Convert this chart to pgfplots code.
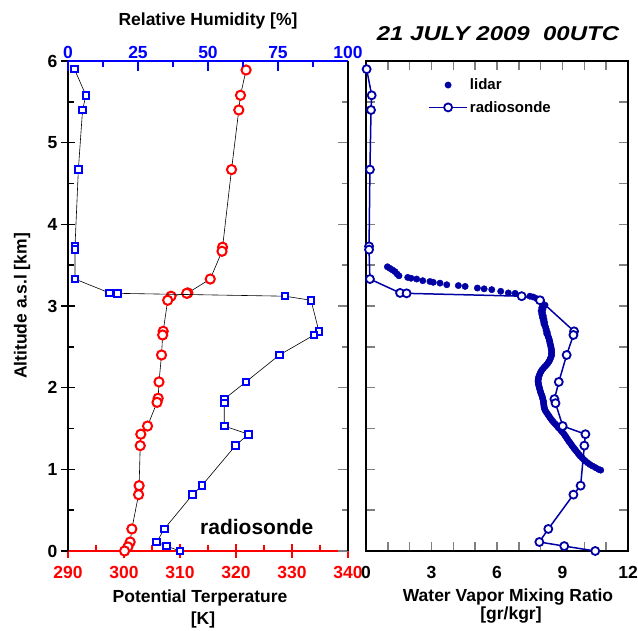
\documentclass[border=0pt]{standalone}
\usepackage{pgfplots}
\pgfplotsset{compat=1.18}
\usepackage{graphicx}
\usepackage{fontspec}
\setmainfont{Liberation Sans}
\definecolor{nv}{RGB}{0,0,165}
\newcommand{\fs}[1]{\fontsize{#1}{#1}\selectfont\bfseries}
\pgfplotsset{longleg/.style={legend image code/.code={\draw[mark repeat=2,mark phase=2,##1] plot coordinates {(0cm,0cm) (0.67cm,0cm) (1.34cm,0cm)};}}}
\begin{document}
\begin{tikzpicture}
\path[use as bounding box] (0pt,0pt) rectangle (638pt,631pt);
\pgfplotsset{base/.style={
  scale only axis, height=490pt, ymin=0, ymax=6,
  ytick distance=1, minor y tick num=1,
  /pgf/number format/assume math mode=true,
  ticklabel style={font=\fs{17.5}},
  axis line style={line width=1.8pt},
  every tick/.append style={line width=1.5pt},
}}
% ---------- left panel: potential temperature ----------
\begin{axis}[base, at={(68pt,80pt)}, anchor=south west, width=280pt,
  xmin=290, xmax=340, xtick={290,300,...,340}, minor x tick num=1,
  axis x line*=bottom, axis y line*=left,
  x axis line style={red},
  xticklabel style={red, yshift=-12pt},
  yticklabel style={xshift=-7pt},
  major x tick style={red, yshift=-7pt}, minor x tick style={red},
  major y tick style={black, xshift=-7pt}, minor y tick style={black},
  tick align=inside, major tick length=14pt, minor tick length=6pt,
]
\addplot[black, line width=0.6pt, mark=*, mark size=4.6pt, mark options={draw=red, fill=white, line width=2pt}] table {
x y
321.8 5.89
320.8 5.58
320.5 5.40
319.2 4.67
317.6 3.72
317.5 3.67
315.4 3.33
311.4 3.16
311.2 3.155
308.4 3.12
307.8 3.07
307.0 2.69
306.9 2.645
306.7 2.40
306.25 2.07
306.1 1.87
305.9 1.82
304.2 1.53
303.0 1.43
302.9 1.29
302.7 0.80
302.6 0.69
301.4 0.27
301.1 0.11
300.7 0.05
300.1 0.00
};
\end{axis}
% ---------- left panel: relative humidity ----------
\begin{axis}[base, at={(68pt,80pt)}, anchor=south west, width=280pt,
  xmin=0, xmax=100, xtick={0,25,...,100}, minor x tick num=1,
  axis x line*=top, axis y line*=right,
  x axis line style={blue}, xticklabel style={blue, yshift=-1pt},
  major x tick style={blue}, minor x tick style={blue},
  yticklabels={},
  tick align=inside, major tick length=10pt, minor tick length=6pt,
]
\addplot[black, line width=0.6pt, mark=square*, mark size=3.3pt, mark options={draw=blue, fill=white, line width=2pt}] table {
x y
2.3 5.90
6.4 5.58
5.2 5.40
3.7 4.67
2.5 3.73
2.5 3.69
2.5 3.33
14.8 3.16
17.6 3.155
77.5 3.12
86.8 3.07
89.6 2.69
87.9 2.645
75.5 2.40
63.5 2.07
55.8 1.86
55.8 1.81
55.8 1.53
64.4 1.43
59.8 1.29
47.8 0.80
44.5 0.69
34.4 0.27
31.7 0.11
35.2 0.06
40.0 0.00
};
\end{axis}
% ---------- right panel: mixing ratio ----------
\begin{axis}[base, at={(366pt,80pt)}, anchor=south west, width=262pt,
  xmin=0, xmax=12, xtick={0,3,...,12}, minor x tick num=2,
  xtick pos=both, ytick pos=both, yticklabels={},
  tick align=inside, major tick length=9pt, minor tick length=9pt,
  xticklabel style={yshift=-12pt},
  legend style={at={(0.237,0.968)}, anchor=north west, draw=none, fill=none,
    font=\fs{15}, row sep=6pt, inner sep=0pt},
  legend cell align=left,
]
\addplot[only marks, mark=*, mark size=3.2pt, nv, mark options={draw=none, fill=nv}, longleg] table {
x y
0.98 3.48
1.10 3.46
1.22 3.44
1.33 3.42
1.43 3.39
1.51 3.37
1.91 3.35
2.06 3.34
2.32 3.33
2.60 3.31
2.93 3.30
3.08 3.29
3.39 3.28
3.70 3.26
4.23 3.25
4.54 3.24
5.10 3.22
5.41 3.21
5.76 3.20
6.17 3.18
6.52 3.16
6.83 3.155
7.51 3.12
7.66 3.11
7.82 3.09
8.05 3.05
8.20 3.01
8.15 3.00
8.05 2.98
8.10 2.96
8.02 2.94
8.08 2.92
8.05 2.90
8.12 2.88
8.08 2.86
8.15 2.84
8.12 2.82
8.18 2.80
8.15 2.78
8.20 2.76
8.22 2.74
8.25 2.72
8.25 2.70
8.30 2.68
8.28 2.66
8.33 2.64
8.35 2.62
8.38 2.60
8.40 2.58
8.42 2.56
8.43 2.54
8.45 2.52
8.47 2.50
8.48 2.48
8.50 2.46
8.50 2.44
8.50 2.42
8.50 2.40
8.48 2.38
8.45 2.36
8.42 2.34
8.38 2.32
8.33 2.30
8.27 2.28
8.20 2.26
8.13 2.24
8.07 2.22
8.02 2.20
7.98 2.18
7.95 2.16
7.92 2.14
7.90 2.12
7.89 2.10
7.88 2.08
7.89 2.06
7.90 2.04
7.92 2.02
7.94 2.00
7.96 1.98
7.98 1.96
8.00 1.94
8.03 1.92
8.06 1.90
8.08 1.88
8.10 1.86
8.12 1.84
8.13 1.82
8.14 1.80
8.15 1.78
8.16 1.76
8.18 1.74
8.21 1.72
8.26 1.70
8.31 1.68
8.36 1.66
8.41 1.64
8.46 1.62
8.52 1.60
8.58 1.58
8.65 1.56
8.72 1.54
8.78 1.52
8.85 1.50
8.92 1.48
8.98 1.46
9.05 1.44
9.10 1.42
9.15 1.40
9.20 1.38
9.25 1.36
9.30 1.34
9.36 1.32
9.41 1.30
9.46 1.28
9.52 1.26
9.58 1.24
9.64 1.22
9.70 1.20
9.76 1.18
9.82 1.16
9.90 1.14
9.97 1.12
10.05 1.10
10.15 1.08
10.25 1.06
10.38 1.04
10.52 1.02
10.65 1.00
10.75 0.99
};
\addlegendentry{lidar}
\addplot[nv, line width=1.5pt, mark=*, mark size=4pt, mark options={draw=nv, fill=white, line width=1.8pt}, longleg] table {
x y
0.03 5.90
0.26 5.58
0.23 5.40
0.18 4.67
0.14 3.73
0.14 3.69
0.18 3.33
1.56 3.16
1.86 3.155
7.13 3.12
7.97 3.07
9.53 2.69
9.50 2.645
9.19 2.40
8.83 2.07
8.63 1.86
8.68 1.81
9.01 1.53
10.05 1.43
10.00 1.29
9.83 0.80
9.50 0.69
8.35 0.27
7.94 0.11
9.08 0.06
10.50 0.00
};
\addlegendentry{radiosonde}
\end{axis}
% ---------- texts ----------
\node[font=\fs{17.5}] at (208pt,610pt) {Relative Humidity [\%]};
\node[font=\fs{17.5}, rotate=90] at (22pt,325pt) {Altitude a.s.l [km]};
\node[font=\fs{17.5}, anchor=base] at (200pt,28pt) {Potential Terperature};
\node[font=\fs{17.5}, anchor=base] at (203pt,6pt) {[K]};
\node[font=\fs{17.5}, anchor=base] at (508pt,29pt) {Water Vapor Mixing Ratio};
\node[font=\fs{17.5}, anchor=base] at (511pt,11pt) {[gr/kgr]};
\node[font=\fs{21}, anchor=base west, inner sep=0pt] at (200pt,96pt) {radiosonde};
\node[font=\fontsize{20}{20}\selectfont\bfseries\itshape] at (498pt,597pt) {\scalebox{1.2}[1]{21 JULY 2009\ \ 00UTC}};
\end{tikzpicture}
\end{document}
